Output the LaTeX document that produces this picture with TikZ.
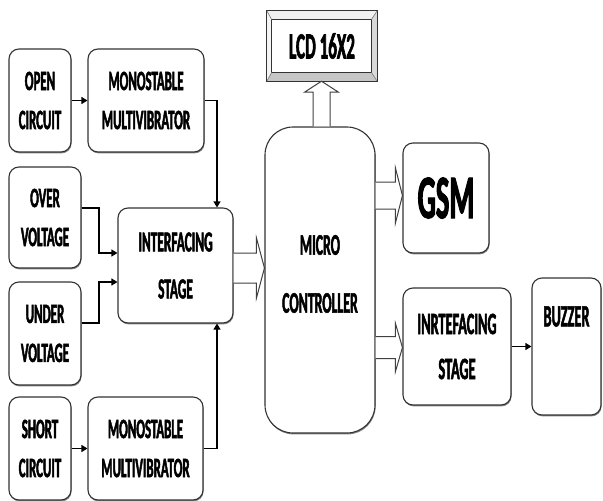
\documentclass[tikz,border=0pt]{standalone}
\usepackage{fontspec}
\newfontfamily\cf[FakeStretch=0.46, BoldFont={Carlito Bold}, BoldFeatures={FakeBold=1.6}]{Carlito}
\usetikzlibrary{calc,arrows.meta,shadows}
\newcommand\harrow[5]{%
  \draw[hollow] ($(#1)+(0,-#3)$) -- ($(#2)+(-#5,-#3)$) -- ($(#2)+(-#5,-#4)$) -- (#2)
     -- ($(#2)+(-#5,#4)$) -- ($(#2)+(-#5,#3)$) -- ($(#1)+(0,#3)$);}
\begin{document}
\begin{tikzpicture}[x=1pt,y=-1pt,
  box/.style={draw=black!80, line width=1.1pt, rounded corners=10pt, fill=white,
    inner sep=0pt, align=center, font=\cf\bfseries\fontsize{28}{39}\selectfont,
    drop shadow={shadow xshift=0.6pt, shadow yshift=-1.4pt, fill=black!60, opacity=0.8}},
  rbig/.style={font=\cf\bfseries\fontsize{31}{45}\selectfont},
  txt/.style={inner sep=0pt, align=center, font=\cf\bfseries\fontsize{31}{45}\selectfont},
  arr/.style={line width=1.1pt, -{Triangle[length=6pt,width=7pt]}},
  hollow/.style={draw=black!75, line width=1pt, fill=white},
]
\useasboundingbox (0,0) rectangle (603,501);

% left column
\node[box, minimum width=62, minimum height=103] (open) at (40,100.5) {OPEN\\CIRCUIT};
\node[box, minimum width=116, minimum height=103] (mono1) at (146,100.5) {MONOSTABLE\\MULTIVIBRATOR};
\node[box, minimum width=72, minimum height=101] (over) at (45,217.5) {OVER\\VOLTAGE};
\node[box, minimum width=72, minimum height=103] (under) at (45,333.5) {UNDER\\VOLTAGE};
\node[box, minimum width=62, minimum height=103] (short) at (40,448.5) {SHORT\\CIRCUIT};
\node[box, minimum width=115, minimum height=103] (mono2) at (145.5,448.5) {MONOSTABLE\\MULTIVIBRATOR};
\node[box, minimum width=115, minimum height=115, font=\cf\bfseries\fontsize{29}{47}\selectfont] (iface) at (175.5,265.5) {INTERFACING\\STAGE};

% micro controller
\node[box, minimum width=110, minimum height=306, rounded corners=28pt] (micro) at (320,280) {};
\node[txt, font=\cf\bfseries\fontsize{30}{58}\selectfont] (microtext) at ($(micro.center)+(0,-6)$) {MICRO\\CONTROLLER};

% right column
\node[box, minimum width=86, minimum height=110, font=\cf\bfseries\fontsize{62}{64}\selectfont] (gsm) at (446,198) {GSM};
\node[box, minimum width=108, minimum height=117, rbig] (iface2) at (457,346.5) {INRTEFACING\\STAGE};
\node[box, minimum width=69, minimum height=137] (buzzer) at (566.5,346.5) {};
\node[txt] (buzzertext) at ($(buzzer.north)+(0,39)$) {BUZZER};

% LCD with bevelled frame
\node[minimum width=110, minimum height=70, inner sep=0pt,
      font=\cf\bfseries\fontsize{37}{40}\selectfont] (lcd) at (322,46) {LCD 16X2};
\fill[gray!12] (lcd.north west) -- (lcd.north east) -- ($(lcd.north east)+(-6,9)$) -- ($(lcd.north west)+(5,9)$) -- cycle;
\fill[gray!45] (lcd.south west) -- (lcd.south east) -- ($(lcd.south east)+(-6,-9)$) -- ($(lcd.south west)+(5,-9)$) -- cycle;
\fill[gray!30] (lcd.north east) -- (lcd.south east) -- ($(lcd.south east)+(-6,-9)$) -- ($(lcd.north east)+(-6,9)$) -- cycle;
\fill[gray!8] (lcd.north west) -- (lcd.south west) -- ($(lcd.south west)+(5,-9)$) -- ($(lcd.north west)+(5,9)$) -- cycle;
\draw[black!80, line width=1.1pt] (lcd.north west) rectangle (lcd.south east);
\draw[black!80, line width=0.9pt] ($(lcd.north west)+(5,9)$) rectangle ($(lcd.south east)+(-6,-9)$);
\draw[black!60, line width=0.5pt]
  (lcd.north west) -- ($(lcd.north west)+(5,9)$)
  (lcd.north east) -- ($(lcd.north east)+(-6,9)$)
  (lcd.south west) -- ($(lcd.south west)+(5,-9)$)
  (lcd.south east) -- ($(lcd.south east)+(-6,-9)$);

% plain connectors
\coordinate (j1) at (217,0);
\coordinate (j2) at (99,0);
\draw[arr] (open.east) -- (mono1.west);
\draw[arr] (short.east) -- (mono2.west);
\draw[arr] (mono1.east) -| (j1 |- iface.north);
\draw[arr] (mono2.east) -| (j1 |- iface.south);
\coordinate (o1) at ([yshift=9.5pt]over.east);
\coordinate (i1) at ([yshift=12.5pt]iface.west);
\coordinate (u1) at ([yshift=10.5pt]under.east);
\coordinate (i2) at ([yshift=-16.5pt]iface.west);
\draw[arr] (o1) -| (j2 |- i1) -- (i1);
\draw[arr] (u1) -| (j2 |- i2) -- (i2);
\draw[arr] (iface2.east) -- (buzzer.west);

% hollow (bus) arrows
\coordinate (h1s) at ([yshift=-2.5pt]iface.east);
\coordinate (h1t) at (micro.west |- h1s);
\harrow{h1s}{h1t}{15}{30}{8}
\coordinate (h2t) at ([yshift=2.5pt]gsm.west);
\coordinate (h2s) at (micro.east |- h2t);
\harrow{h2s}{h2t}{13.5}{27.5}{7}
\coordinate (h3t) at ([yshift=-1pt]iface2.west);
\coordinate (h3s) at (micro.east |- h3t);
\harrow{h3s}{h3t}{11}{24}{7}
\coordinate (h4s) at ([xshift=1.5pt]micro.north);
\coordinate (h4t) at (h4s |- lcd.south);
\draw[hollow] ($(h4s)+(-8.5,0)$) -- ($(h4t)+(-8.5,11)$) -- ($(h4t)+(-17,11)$) -- (h4t)
   -- ($(h4t)+(17,11)$) -- ($(h4t)+(8.5,11)$) -- ($(h4s)+(8.5,0)$);
\end{tikzpicture}
\end{document}
